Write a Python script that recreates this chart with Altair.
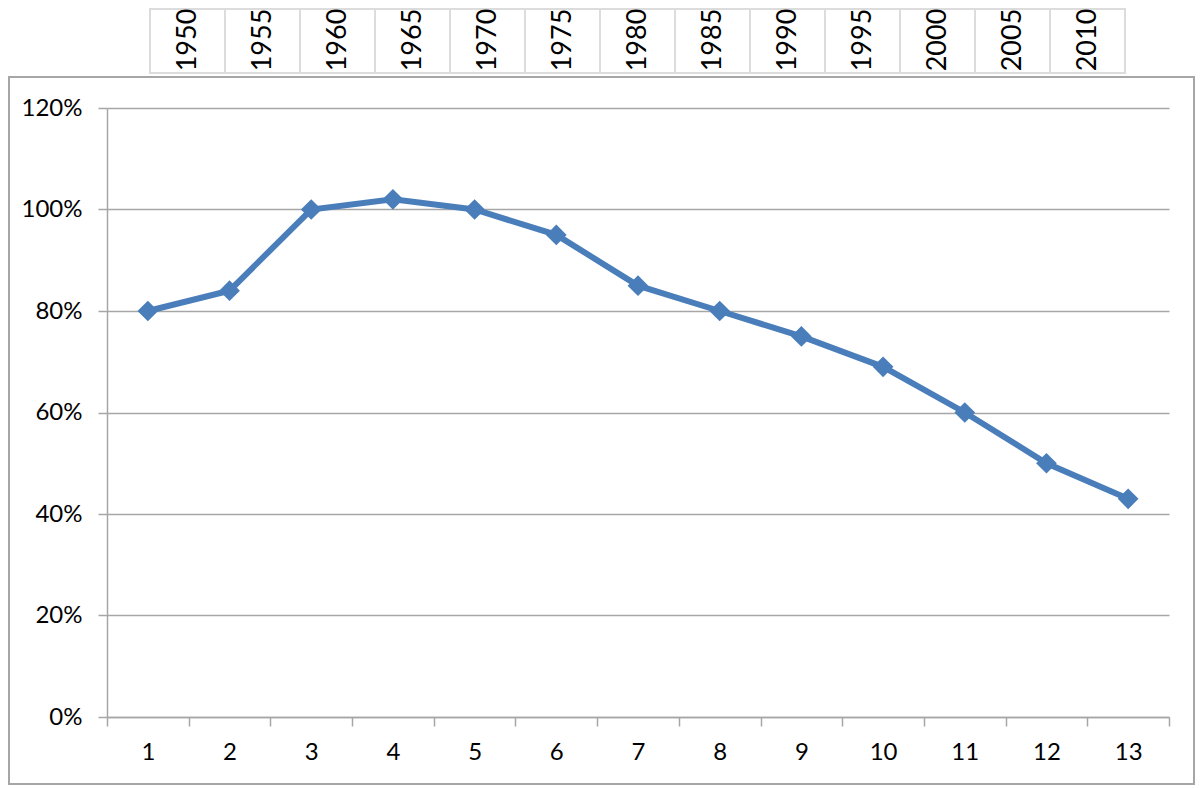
import altair as alt
import pandas as pd

categories = [str(i) for i in range(1, 14)]
values = [0.80, 0.84, 1.00, 1.02, 1.00, 0.95, 0.85, 0.80, 0.75, 0.69, 0.60, 0.50, 0.43]
years = [1950, 1955, 1960, 1965, 1970, 1975, 1980, 1985, 1990, 1995, 2000, 2005, 2010]
y_ticks = [0, 0.2, 0.4, 0.6, 0.8, 1.0, 1.2]

W, H = 1062, 609
FONT = "Lato"
GRAY = "#A6A6A6"
BLUE = "#4A7EBB"

df = pd.DataFrame({"cat": categories, "value": values})
hdr = pd.DataFrame({"year": years})
one = pd.DataFrame({"a": [0]})

X = alt.X(
    "cat:N", sort=categories,
    scale=alt.Scale(type="band", paddingInner=0, paddingOuter=0),
    axis=alt.Axis(title=None, labelAngle=0, tickBand="extent", grid=False,
                  domainColor=GRAY, domainWidth=1.5, tickColor=GRAY, tickWidth=1.5,
                  tickSize=9, labelFont=FONT, labelFontSize=24, labelColor="black",
                  labelPadding=14),
)
Y = alt.Y(
    "value:Q", scale=alt.Scale(domain=[0, 1.2], nice=False),
    axis=alt.Axis(title=None, values=y_ticks, format=".0%", grid=True, gridColor=GRAY,
                  gridWidth=1.5, domainColor=GRAY, domainWidth=1.5, tickColor=GRAY,
                  tickWidth=1.5, tickSize=9, labelFont=FONT, labelFontSize=24,
                  labelColor="black", labelPadding=16),
)

border = alt.Chart(one).mark_rect(fill=None, stroke=GRAY, strokeWidth=2).encode(
    x=alt.value(-98), x2=alt.value(1087), y=alt.value(-31), y2=alt.value(676)
)

HX = alt.Scale(domain=[1944.6333, 2015.4333])
cells = alt.Chart(hdr).transform_calculate(
    x0="datum.year - 2.5", x1="datum.year + 2.5"
).mark_rect(fill="white", stroke="#DCDCDC", strokeWidth=2).encode(
    x=alt.X("x0:Q", scale=HX, axis=None), x2="x1:Q",
    y=alt.value(-99), y2=alt.value(-35)
)
labels = alt.Chart(hdr).mark_text(
    angle=270, align="center", baseline="middle", font=FONT, fontSize=27, color="black"
).encode(
    x=alt.X("year:Q", scale=HX, axis=None), y=alt.value(-68), text="year:N"
)
header = alt.layer(cells, labels)

line = alt.Chart(df).mark_line(color=BLUE, strokeWidth=6).encode(x=X, y=Y)
pts = alt.Chart(df).mark_point(shape="diamond", filled=True, size=430, color=BLUE,
                               opacity=1).encode(x=X, y=Y)
main = alt.layer(line, pts)

chart = alt.layer(border, header, main).resolve_scale(x="independent").properties(
    width=W, height=H,
    autosize=alt.AutoSizeParams(type="none"),
    padding={"left": 99, "top": 100, "right": 27, "bottom": 69},
).configure_view(stroke=None)

chart.save("out.html", embed_options={"renderer": "svg", "actions": False})
